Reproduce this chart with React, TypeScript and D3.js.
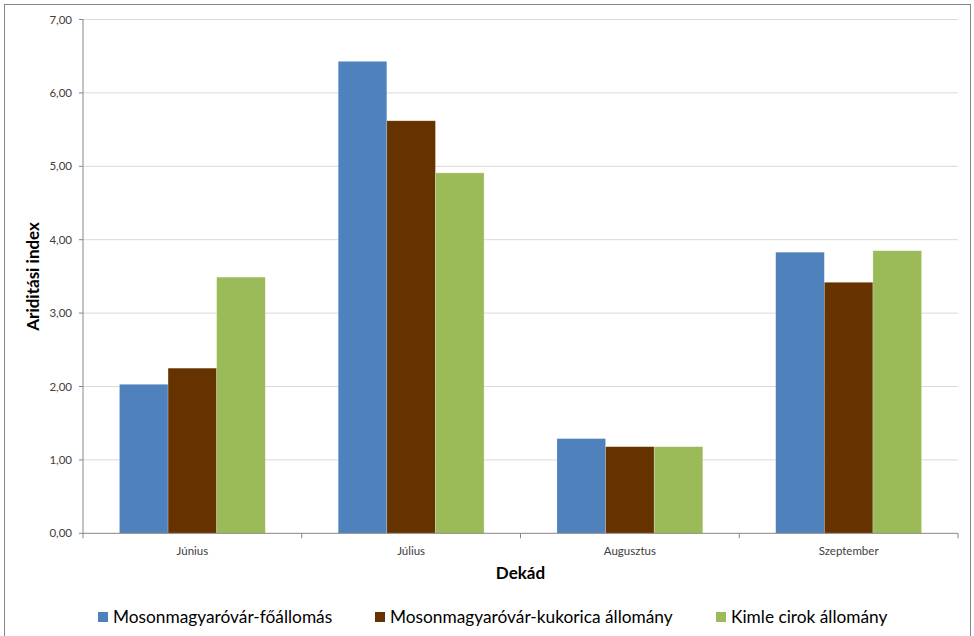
import React from "react";
import * as d3 from "d3";

const categories = ["Június", "Július", "Augusztus", "Szeptember"];
const seriesNames = [
  "Mosonmagyaróvár-főállomás",
  "Mosonmagyaróvár-kukorica állomány",
  "Kimle cirok állomány",
];
const foallomas = [2.03, 6.43, 1.29, 3.83];
const kukorica = [2.25, 5.62, 1.18, 3.42];
const cirok = [3.49, 4.91, 1.18, 3.85];
const yTicks = [0, 1, 2, 3, 4, 5, 6, 7];
const colors = ["#4F81BD", "#663300", "#9BBB59"];

const W = 974;
const H = 636;
const margin = { left: 83, right: 16, top: 19.5, bottom: 102.7 };
const FONT = "Lato, 'Open Sans', sans-serif";

export default function App() {
  const series = [foallomas, kukorica, cirok];
  const x0 = d3
    .scaleBand<string>()
    .domain(categories)
    .range([margin.left, W - margin.right])
    .paddingInner(0)
    .paddingOuter(0);
  const inner = d3
    .scaleBand<number>()
    .domain([0, 1, 2])
    .range([0, x0.bandwidth()])
    .paddingOuter(0.75)
    .paddingInner(0);
  const y = d3
    .scaleLinear()
    .domain([0, 7])
    .range([H - margin.bottom, margin.top]);
  const fmt = (v: number) => v.toFixed(2).replace(".", ",");
  const plotL = margin.left;
  const plotR = W - margin.right;
  const y0 = y(0);

  return (
    <svg
      width={W}
      height={H}
      style={{ position: "absolute", left: 0, top: 0, background: "#fff" }}
    >
      <rect x={4.5} y={4.5} width={966} height={640} fill="#fff" stroke="#868686" strokeWidth={1} />
      {yTicks.map((t) => (
        <g key={t}>
          {t > 0 && (
            <line x1={plotL} x2={plotR} y1={y(t)} y2={y(t)} stroke="#d9d9d9" strokeWidth={1} />
          )}
          <line x1={plotL - 4} x2={plotL} y1={y(t)} y2={y(t)} stroke="#868686" />
          <text
            x={plotL - 11}
            y={y(t)}
            dy="0.35em"
            textAnchor="end"
            fontFamily={FONT}
            fontSize={11.5}
            fill="#404040"
          >
            {fmt(t)}
          </text>
        </g>
      ))}
      {categories.map((c, ci) => (
        <g key={c}>
          {series.map((s, si) => {
            const bx = (x0(c) as number) + (inner(si) as number);
            return (
              <rect
                key={si}
                x={bx}
                y={y(s[ci])}
                width={inner.bandwidth()}
                height={y0 - y(s[ci])}
                fill={colors[si]}
                stroke="#ffffff"
                strokeOpacity={0.35}
                strokeWidth={0.6}
              />
            );
          })}
          <text
            x={(x0(c) as number) + x0.bandwidth() / 2}
            y={y0 + 18}
            dy="0.35em"
            textAnchor="middle"
            fontFamily={FONT}
            fontSize={11.5}
            fill="#404040"
          >
            {c}
          </text>
        </g>
      ))}
      {[...categories.map((c) => x0(c) as number), plotR].map((xv, i) => (
        <line key={i} x1={xv} x2={xv} y1={y0} y2={y0 + 5} stroke="#868686" />
      ))}
      <line x1={plotL} x2={plotL} y1={margin.top} y2={y0} stroke="#868686" />
      <line x1={plotL} x2={plotR} y1={y0} y2={y0} stroke="#868686" />
      <text
        x={(plotL + plotR) / 2}
        y={573}
        dy="0.35em"
        textAnchor="middle"
        fontFamily={FONT}
        fontWeight="bold"
        fontSize={17}
        fill="#000"
      >
        Dekád
      </text>
      <text
        transform={`translate(33,${(margin.top + y0) / 2}) rotate(-90)`}
        dy="0.35em"
        textAnchor="middle"
        fontFamily={FONT}
        fontWeight="bold"
        fontSize={17}
        fill="#000"
      >
        Ariditási index
      </text>
      {seriesNames.map((n, i) => {
        const lx = [98, 375, 716][i];
        return (
          <g key={n}>
            <rect x={lx} y={612} width={10} height={10} fill={colors[i]} />
            <text x={lx + 15} y={617} dy="0.35em" fontFamily={FONT} fontSize={17.3} fill="#000">
              {n}
            </text>
          </g>
        );
      })}
    </svg>
  );
}
